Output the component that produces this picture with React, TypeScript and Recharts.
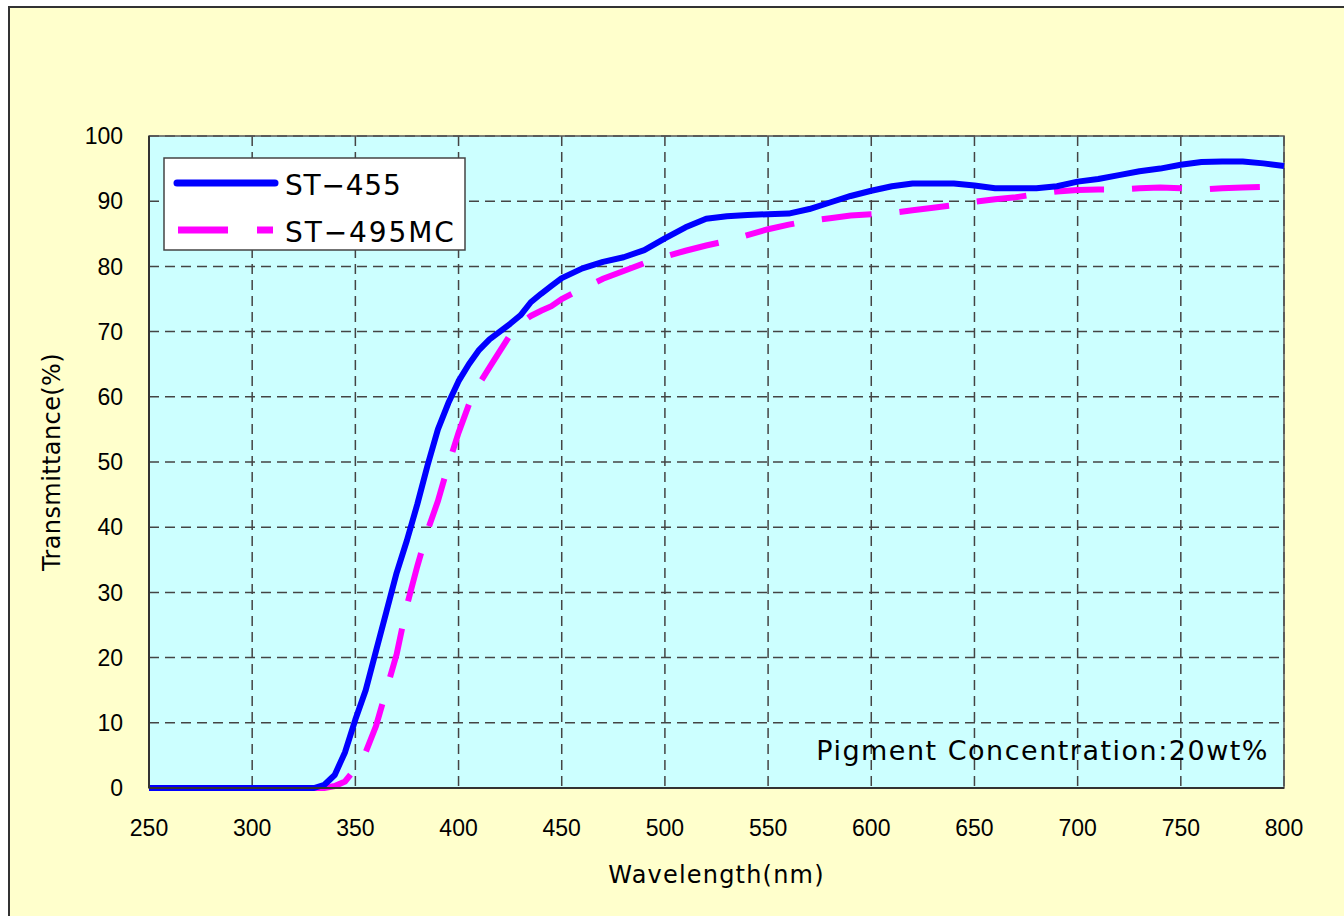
import { LineChart, Line, XAxis, YAxis, CartesianGrid, Legend, ReferenceArea } from 'recharts'

const WAVELENGTHS = [
  250, 300, 330, 335, 340, 345, 350, 355, 360, 365, 370, 375, 380, 385, 390, 395, 400, 405, 410, 415,
  420, 425, 430, 435, 440, 445, 450, 460, 470, 480, 490, 500, 510, 520, 530, 540, 550, 560, 570, 580,
  590, 600, 610, 620, 630, 640, 650, 660, 670, 680, 690, 700, 710, 720, 730, 740, 750, 760, 770, 780,
  790, 800,
]
const ST455 = [
  0, 0, 0, 0.5, 2, 5.5, 10.5, 15, 21, 27, 33, 38, 43.5, 49.5, 55, 59, 62.4, 65, 67.2, 68.8,
  70, 71.2, 72.5, 74.5, 75.8, 77, 78.2, 79.7, 80.7, 81.4, 82.5, 84.3, 86, 87.3, 87.7, 87.9, 88, 88.1, 88.8, 89.8,
  90.8, 91.6, 92.3, 92.7, 92.7, 92.7, 92.4, 92, 92, 92, 92.3, 93, 93.4, 94, 94.6, 95, 95.6, 96, 96.1, 96.1,
  95.8, 95.4,
]
const ST495MC = [
  0, 0, 0, 0, 0.3, 1, 3, 5.5, 9.5, 15, 20.5, 28, 34, 39.5, 44, 49.5, 54.5, 58.8, 62, 64.5,
  67, 69.5, 71.3, 72.4, 73.2, 73.9, 75, 76.6, 78.1, 79.3, 80.5, 81.5, 82.4, 83.2, 83.9, 84.8, 85.7, 86.4, 87, 87.4,
  87.8, 88, 88.2, 88.6, 89, 89.4, 89.9, 90.3, 90.6, 91.1, 91.5, 91.7, 91.8, 91.8, 92, 92.1, 92, 91.8, 92, 92.1,
  92.2, 92.4,
]
const X_TICKS = [250, 300, 350, 400, 450, 500, 550, 600, 650, 700, 750, 800]
const Y_TICKS = [0, 10, 20, 30, 40, 50, 60, 70, 80, 90, 100]

const BLUE = '#0000FF'
const MAGENTA = '#FF00FF'
const FONT = '"Liberation Sans", Arial, sans-serif'
const WIDE = '"DejaVu Sans", sans-serif'

const data = WAVELENGTHS.map((w, i) => ({ w, st455: ST455[i], st495: ST495MC[i] }))

function LegendBox() {
  return (
    <svg width={303} height={94} style={{ display: 'block' }}>
      <rect x={1} y={1} width={301} height={92} fill="#fff" stroke="#444" strokeWidth={1.5} />
      <line x1={14} y1={26} x2={112} y2={26} stroke={BLUE} strokeWidth={7} strokeLinecap="round" />
      <text x={122} y={38} fontSize={28} letterSpacing={0.8} fontFamily={WIDE} fill="#000">ST−455</text>
      <line x1={15} y1={73} x2={110} y2={73} stroke={MAGENTA} strokeWidth={7} strokeDasharray="50 29" />
      <text x={122} y={85} fontSize={28} letterSpacing={1.9} fontFamily={WIDE} fill="#000">ST−495MC</text>
    </svg>
  )
}

export default function App() {
  return (
    <div style={{ position: 'fixed', left: 0, top: 0, width: 1344, height: 916, overflow: 'hidden', fontFamily: FONT }}>
      <div style={{ position: 'absolute', left: 8, top: 6, width: 1336, height: 910, background: '#FFFFCC', borderLeft: '2px solid #333', borderTop: '2px solid #333', boxSizing: 'border-box' }} />
      <div style={{ position: 'absolute', left: 8, top: 6 }}>
        <LineChart width={1336} height={910} data={data} margin={{ top: 130, right: 60, bottom: 0, left: 0 }}>
          <CartesianGrid fill="#CCFFFF" stroke="#444" strokeWidth={1.5} strokeDasharray="10 6" />
          <XAxis
            dataKey="w"
            type="number"
            domain={[250, 800]}
            ticks={X_TICKS}
            height={128}
            tickSize={0}
            tickLine={false}
            tickMargin={32}
            axisLine={{ stroke: '#333', strokeWidth: 2 }}
            tick={{ fill: '#000', fontSize: 23, fontFamily: FONT }}
            label={{
              content: ({ viewBox }: any) => (
                <text x={viewBox.x + viewBox.width / 2} y={viewBox.y + 95} textAnchor="middle" fontSize={24} letterSpacing={1.2} fontFamily={WIDE} fill="#000">
                  Wavelength(nm)
                </text>
              ),
            }}
          />
          <YAxis
            type="number"
            domain={[0, 100]}
            ticks={Y_TICKS}
            width={141}
            tickSize={0}
            tickLine={false}
            tickMargin={26}
            axisLine={{ stroke: '#333', strokeWidth: 2 }}
            tick={{ fill: '#000', fontSize: 23, fontFamily: FONT }}
            label={{
              content: ({ viewBox }: any) => {
                const cx = viewBox.x + 52
                const cy = viewBox.y + viewBox.height / 2
                return (
                  <text x={cx} y={cy} transform={`rotate(-90 ${cx} ${cy})`} textAnchor="middle" fontSize={24} letterSpacing={0.4} fontFamily={WIDE} fill="#000">
                    Transmittance(%)
                  </text>
                )
              },
            }}
          />
          <ReferenceArea x1={250} x2={800} y1={0} y2={100} fill="none" stroke="#555" strokeWidth={1.5} />
          <Line type="linear" dataKey="st495" name="ST-495MC" stroke={MAGENTA} strokeWidth={6} strokeDasharray="50 28" dot={false} isAnimationActive={false} />
          <Line type="linear" dataKey="st455" name="ST-455" stroke={BLUE} strokeWidth={6} strokeLinejoin="round" dot={false} isAnimationActive={false} />
          <Legend
            layout="horizontal"
            align="center"
            verticalAlign="middle"
            content={() => <LegendBox />}
            wrapperStyle={{ left: 155, top: 151, width: 303, height: 94 }}
          />
        </LineChart>
      </div>
      <div style={{ position: 'absolute', right: 75, top: 737, fontSize: 27, lineHeight: '27px', letterSpacing: 1.5, color: '#000', whiteSpace: 'nowrap', fontFamily: WIDE }}>
        Pigment Concentration:20wt%
      </div>
    </div>
  )
}
